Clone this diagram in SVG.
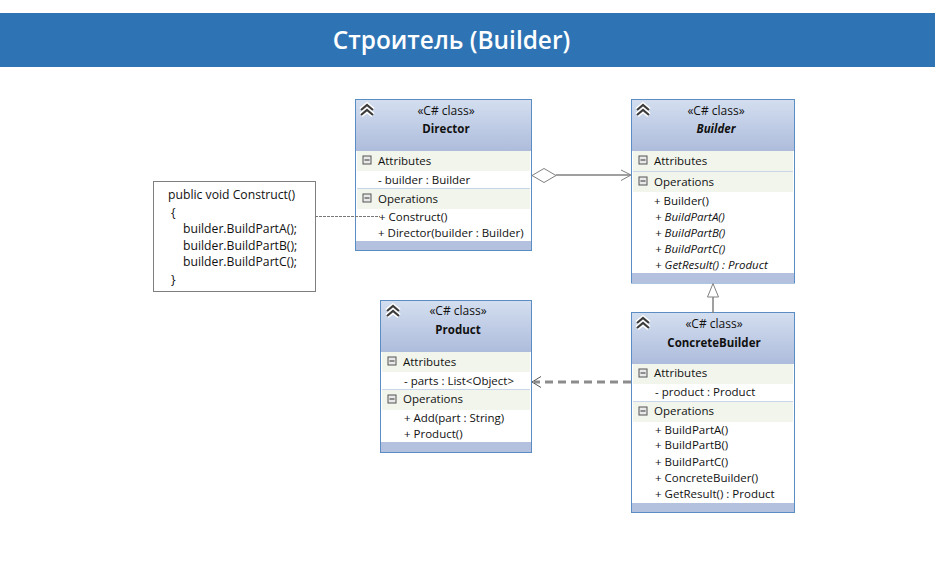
<svg xmlns="http://www.w3.org/2000/svg" width="935" height="575" viewBox="0 0 935 575">
<style>
text{font-family:"Open Sans","Noto Sans","Liberation Sans",sans-serif;font-size:11.500px;fill:#111}
.box{fill:#fff;stroke:#5b8cc4;stroke-width:1}
.hd{fill:url(#hg)}
.ft{fill:#b3c1df}
.band{fill:#f1f5ec}
.sep{stroke:#c9d6ea;stroke-width:1}
.st{text-anchor:middle;font-size:12px}
.nm{text-anchor:middle;font-weight:bold}
.it{font-style:italic}
.ico{fill:#e8e8e8;stroke:#555;stroke-width:1}
.ch{fill:none;stroke:#fff;stroke-width:5}
.ch2{fill:none;stroke:#3c3c3c;stroke-width:2.200}
.code{font-size:12.200px}
</style>
<defs>
<linearGradient id="hg" x1="0" y1="0" x2="0" y2="1"><stop offset="0" stop-color="#d3deef"/><stop offset="1" stop-color="#aebcdc"/></linearGradient>
<g id="chev"><path class="ch" d="M-6 0L0-5L6 0M-6 5L0 0L6 5"/><path class="ch2" d="M-6 0L0-5L6 0M-6 5L0 0L6 5"/></g>
<g id="minus"><rect class="ico" x="-4" y="-4" width="8" height="8"/><path d="M-2.500 0H2.500" stroke="#333" fill="none"/></g>
</defs>
<rect width="935" height="575" fill="#fff"/>
<g id="title"><rect x="0" y="13" width="935" height="54" fill="#2e74b5"/><text x="451.500" y="49" text-anchor="middle" style="font-size:24.400px;font-weight:600;fill:#fff">Строитель (Builder)</text></g>
<g id="note"><rect x="153.500" y="181.500" width="162" height="110" fill="#fff" stroke="#7f7f7f"/>
<text class="code" x="168" y="199">public void Construct()</text>
<text class="code" x="171" y="217">{</text>
<text class="code" x="183" y="233">builder.BuildPartA();</text>
<text class="code" x="183" y="250">builder.BuildPartB();</text>
<text class="code" x="183" y="266">builder.BuildPartC();</text>
<text class="code" x="171" y="284">}</text></g>
<g id="director"><rect class="box" x="355.500" y="99.500" width="176" height="151"/><rect class="hd" x="356" y="100" width="175" height="51"/><rect class="ft" x="356" y="241" width="175" height="9"/>
<rect class="band" x="357" y="151" width="173" height="20"/><rect class="band" x="357" y="189" width="173" height="20"/><path class="sep" d="M357 188.500H530"/>
<use href="#chev" x="367" y="110"/><use href="#minus" x="367" y="160"/><use href="#minus" x="367" y="198"/>
<text class="st" x="446" y="115">«C# class»</text><text class="nm" x="446" y="133">Director</text>
<text x="378" y="165">Attributes</text><text x="378" y="184">- builder : Builder</text><text x="378" y="203">Operations</text><text x="379" y="221">+ Construct()</text><text x="378" y="237">+ Director(builder : Builder)</text></g>
<g id="builder"><rect class="box" x="631.500" y="99.500" width="163" height="183.500"/><rect class="hd" x="632" y="100" width="162" height="51"/><rect class="ft" x="632" y="273" width="162" height="10"/>
<rect class="band" x="633" y="151" width="160" height="20"/><rect class="band" x="633" y="172" width="160" height="20"/><path class="sep" d="M633 171.500H793"/>
<use href="#chev" x="643" y="110"/><use href="#minus" x="643" y="160"/><use href="#minus" x="643" y="181"/>
<text class="st" x="716" y="115">«C# class»</text><text class="nm it" x="716" y="133">Builder</text>
<text x="654" y="165">Attributes</text><text x="654" y="186">Operations</text><text x="654" y="205">+ Builder()</text><text class="it" x="655" y="221">+ BuildPartA()</text><text class="it" x="655" y="237">+ BuildPartB()</text><text class="it" x="655" y="253">+ BuildPartC()</text><text class="it" x="655" y="269">+ GetResult() : Product</text></g>
<g id="concretebuilder"><rect class="box" x="631.500" y="312.500" width="163" height="200"/><rect class="hd" x="632" y="313" width="162" height="51"/><rect class="ft" x="632" y="503" width="162" height="9"/>
<rect class="band" x="633" y="364" width="160" height="20"/><rect class="band" x="633" y="402" width="160" height="20"/><path class="sep" d="M633 401.500H793"/>
<use href="#chev" x="643" y="323"/><use href="#minus" x="643" y="373"/><use href="#minus" x="643" y="411"/>
<text class="st" x="714" y="328">«C# class»</text><text class="nm" x="714" y="347">ConcreteBuilder</text>
<text x="654" y="377">Attributes</text><text x="655" y="396">- product : Product</text><text x="654" y="415">Operations</text><text x="655" y="434">+ BuildPartA()</text><text x="655" y="449">+ BuildPartB()</text><text x="655" y="466">+ BuildPartC()</text><text x="655" y="482">+ ConcreteBuilder()</text><text x="655" y="498">+ GetResult() : Product</text></g>
<g id="product"><rect class="box" x="380.500" y="300.500" width="151" height="152"/><rect class="hd" x="381" y="301" width="150" height="51"/><rect class="ft" x="381" y="442" width="150" height="10"/>
<rect class="band" x="382" y="352" width="148" height="20"/><rect class="band" x="382" y="390" width="148" height="20"/><path class="sep" d="M382 389.500H530"/>
<use href="#chev" x="393" y="311"/><use href="#minus" x="392" y="361"/><use href="#minus" x="392" y="399"/>
<text class="st" x="458" y="315">«C# class»</text><text class="nm" x="458" y="334">Product</text>
<text x="403" y="366">Attributes</text><text x="404" y="385">- parts : List&lt;Object&gt;</text><text x="403" y="403">Operations</text><text x="404" y="422">+ Add(part : String)</text><text x="404" y="438">+ Product()</text></g>
<g id="connectors" fill="none" stroke="#8c8c8c">
<path d="M315 216.500H380" stroke-dasharray="3 1" stroke="#777"/>
<path d="M556 175H630" stroke-width="2" stroke="#a0a0a0"/>
<path d="M532 175.500L544 168.500L556 175.500L544 182.500Z" fill="#fff" stroke="#808080"/>
<path d="M621 170L631 175L621 180.500" stroke="#808080"/>
<path d="M713 313V297" stroke-width="1.500" stroke="#808080"/>
<path d="M713 283.500L707.500 297H718.500Z" fill="#fff" stroke="#808080"/>
<path d="M631 382H534" stroke-width="3" stroke-dasharray="8 5"/>
<path d="M541 376.500L532 382L541 387.500" stroke="#555"/>
</g>
</svg>
